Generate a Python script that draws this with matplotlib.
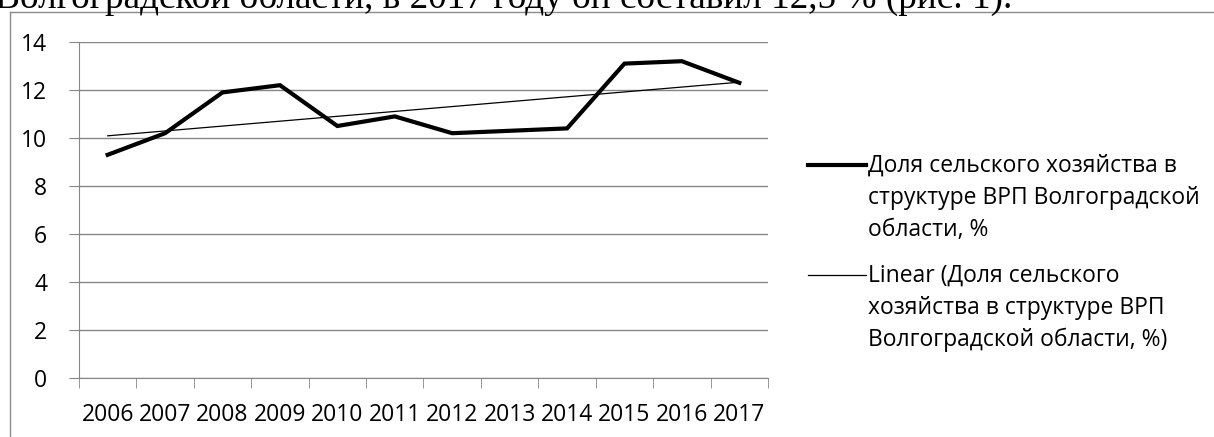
import numpy as np
import matplotlib
matplotlib.use('Agg')
from matplotlib import pyplot as plt
from matplotlib.lines import Line2D

W, H = 1214, 437
DPI = 100

years = ['2006', '2007', '2008', '2009', '2010', '2011',
         '2012', '2013', '2014', '2015', '2016', '2017']
share = [9.3, 10.2, 11.9, 12.2, 10.5, 10.9, 10.2, 10.3, 10.4, 13.1, 13.2, 12.3]

label_main = 'Доля сельского хозяйства в\nструктуре ВРП Волгоградской\nобласти, %'
label_trend = 'Linear (Доля сельского\nхозяйства в структуре ВРП\nВолгоградской области, %)'
top_text = 'Волгоградской области, в 2017 году он составил 12,5 % (рис. 1).'

FONT = 'Open Sans'
GRID = '#868686'

def fx(px):
    return px / W

def fy(py):
    # py counted from top of image
    return 1 - py / H

fig = plt.figure(figsize=(W / DPI, H / DPI), dpi=DPI)

# piece of the page text above the chart, cut by the image edge
fig.text(fx(1012), fy(8), top_text, family='Liberation Serif', fontsize=26.8,
         ha='right', va='baseline', color='black')

# chart frame (only left and top edges are visible)
fig.add_artist(Line2D([fx(10), fx(10)], [fy(12), 0], color='#8c8c8c', lw=1))
fig.add_artist(Line2D([fx(10), 1], [fy(12), fy(12)], color='#8c8c8c', lw=1))

ax = fig.add_axes([fx(79), fy(378), fx(768) - fx(79), fy(42) - fy(378)])

x = np.arange(len(years))
ax.plot(x, share, color='black', lw=3.0, solid_joinstyle='miter', zorder=3)

# linear trend line as Excel draws it
coef = np.polyfit(x, share, 1)
ax.plot(x, np.polyval(coef, x), color='black', lw=0.9, zorder=3)

ax.set_xlim(-0.5, len(years) - 0.5)
ax.set_ylim(0, 14)
ax.set_yticks(np.arange(0, 15, 2))
ax.yaxis.grid(True, color=GRID, lw=1)
ax.set_axisbelow(True)

ax.set_xticks(x)
ax.set_xticklabels(years)
ax.set_xticks(np.arange(-0.5, len(years)), minor=True)
ax.tick_params(axis='x', which='major', length=0, pad=18, labelsize=16.5)
ax.tick_params(axis='x', which='minor', length=7, color=GRID, direction='out')
ax.tick_params(axis='y', length=7, color=GRID, pad=16, labelsize=16.5)
for lab in ax.get_xticklabels() + ax.get_yticklabels():
    lab.set_family(FONT)

for s in ['top', 'right']:
    ax.spines[s].set_visible(False)
ax.spines['left'].set_color(GRID)
ax.spines['bottom'].set_color(GRID)

# legend on the right, handle level with the first text line
fig.add_artist(Line2D([fx(808), fx(866)], [fy(165), fy(165)], color='black', lw=3.0))
fig.text(fx(868), fy(154), label_main, family=FONT, fontsize=16.5,
         ha='left', va='top', linespacing=1.44)
fig.add_artist(Line2D([fx(808), fx(866)], [fy(275), fy(275)], color='black', lw=0.9))
fig.text(fx(868), fy(264), label_trend, family=FONT, fontsize=16.5,
         ha='left', va='top', linespacing=1.44)

fig.savefig('out.png', dpi=DPI)
